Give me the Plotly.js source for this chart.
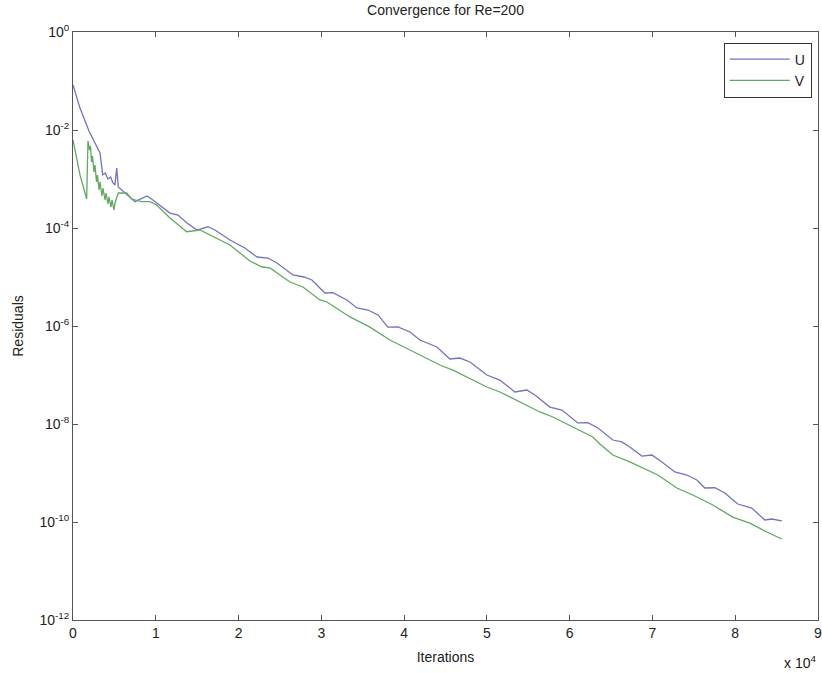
<!DOCTYPE html>
<html>
<head>
<meta charset="utf-8">
<script src="https://cdn.plot.ly/plotly-3.0.1.min.js"></script>
<style>html,body{margin:0;padding:0;background:#fff;}#chart{width:822px;height:673px;}</style>
</head>
<body>
<div id="chart"></div>
<script>
// Iteration counts and residuals
var uIter = [0, 845, 1650, 1930, 3260, 3590, 3900, 4230, 4550, 4800, 5070, 5280, 5470, 6280, 7490, 8940, 9660,
  11710, 12680, 13770, 14980, 16300, 17150, 18960, 20770, 22220, 23550, 24640, 26570, 27900, 28860,
  30430, 31400, 33090, 34300, 35630, 36840, 38040, 39250, 40700, 41910, 43960, 45530, 46740, 47950,
  50000, 51570, 53380, 54830, 55800, 57610, 59060, 60990, 62200, 63410, 65220, 66300, 67270, 68720,
  69930, 71140, 72710, 74150, 75360, 76330, 77540, 78740, 80310, 82000, 83570, 84420, 85630];
var uRes = [8.3e-2, 2.8e-2, 1.26e-2, 9.5e-3, 3.4e-3, 1.21e-3, 1.32e-3, 1.0e-3, 1.1e-3, 8.5e-4, 7.55e-4, 1.68e-3, 6.9e-4, 5.2e-4, 3.44e-4, 4.5e-4, 3.73e-4,
  2.02e-4, 1.84e-4, 1.26e-4, 9.1e-5, 1.06e-4, 9.1e-5, 5.69e-5, 3.9e-5, 2.56e-5, 2.44e-5, 1.93e-5, 1.1e-5, 1.0e-5, 8.7e-6,
  4.71e-6, 4.8e-6, 3.4e-6, 2.33e-6, 2.12e-6, 1.68e-6, 9.5e-7, 9.6e-7, 7.55e-7, 5.18e-7, 3.73e-7, 2.12e-7, 2.22e-7, 1.84e-7,
  1.0e-7, 7.9e-8, 4.5e-8, 4.94e-8, 3.9e-8, 2.22e-8, 1.93e-8, 1.05e-8, 1.06e-8, 8.3e-9, 4.71e-9, 4.3e-9, 3.4e-9, 2.22e-9,
  2.33e-9, 1.68e-9, 1.05e-9, 9.1e-10, 7.2e-10, 4.94e-10, 5.0e-10, 3.9e-10, 2.33e-10, 1.93e-10, 1.1e-10, 1.15e-10, 1.05e-10];

var vIter = [0, 845, 1650, 1810, 1993, 2113, 2234, 2355, 2536, 2657, 2838, 2959, 3140, 3261, 3502, 3623, 3865, 3985,
  4227, 4348, 4589, 4710, 4952, 5072, 5471, 6485, 7089, 8297, 9299, 10108, 11715, 13732, 15338, 16545,
  18961, 21376, 22826, 23792, 24637, 26207, 27777, 29830, 30676, 32608, 33453, 35869, 38284, 40699,
  43115, 44323, 45893, 50000, 51569, 53984, 56400, 57970, 60385, 62800, 63646, 65216, 67269, 68839,
  70650, 72945, 74877, 77293, 79708, 81761, 83814, 85626];
var vRes = [6.25e-3, 1.21e-3, 3.9e-4, 5.97e-3, 3.9e-3, 4.71e-3, 2.22e-3, 2.95e-3, 1.39e-3, 1.93e-3, 8.7e-4, 1.21e-3, 5.97e-4, 8.7e-4, 4.5e-4, 6.55e-4, 3.73e-4, 5.18e-4,
  3.09e-4, 4.3e-4, 2.68e-4, 3.73e-4, 2.33e-4, 3.24e-4, 5.18e-4, 5.18e-4, 3.9e-4, 3.44e-4, 3.44e-4, 2.95e-4, 1.6e-4, 8.4e-5, 9.1e-5, 7.2e-5,
  4.5e-5, 2.12e-5, 1.6e-5, 1.53e-5, 1.21e-5, 7.9e-6, 6.25e-6, 3.4e-6, 3.09e-6, 1.84e-6, 1.53e-6, 9.5e-7, 5.18e-7, 3.24e-7,
  2.02e-7, 1.6e-7, 1.26e-7, 5.69e-8, 4.5e-8, 2.81e-8, 1.76e-8, 1.39e-8, 8.7e-9, 5.43e-9, 3.9e-9, 2.33e-9, 1.68e-9, 1.26e-9,
  9.1e-10, 4.94e-10, 3.56e-10, 2.22e-10, 1.26e-10, 9.5e-11, 6.25e-11, 4.5e-11];

var xTickVals = [0, 10000, 20000, 30000, 40000, 50000, 60000, 70000, 80000, 90000];
var xTickText = ['0', '1', '2', '3', '4', '5', '6', '7', '8', '9'];
var yTickVals = [1, 1e-2, 1e-4, 1e-6, 1e-8, 1e-10, 1e-12];
var yTickText = ['10<sup>0</sup>', '10<sup>-2</sup>', '10<sup>-4</sup>', '10<sup>-6</sup>', '10<sup>-8</sup>', '10<sup>-10</sup>', '10<sup>-12</sup>'];

var font = 'Liberation Sans, Arial, sans-serif';
var traces = [
  {x: uIter, y: uRes, name: 'U', type: 'scatter', mode: 'lines', line: {color: '#7272c4', width: 1.3}},
  {x: vIter, y: vRes, name: 'V', type: 'scatter', mode: 'lines', line: {color: '#62a862', width: 1.3}}
];
var axisCommon = {
  showline: true, linecolor: '#555', linewidth: 1, mirror: 'ticks',
  ticks: 'inside', ticklen: 5, tickcolor: '#555', showgrid: false, zeroline: false,
  ticklabeloverflow: 'allow',
  tickfont: {family: font, size: 14, color: '#222'}
};
var layout = {
  width: 822, height: 673,
  margin: {l: 73, r: 4, t: 32, b: 53},
  paper_bgcolor: '#fff', plot_bgcolor: '#fff',
  title: {text: 'Convergence for Re=200', font: {family: font, size: 14, color: '#222'}, x: 0.542, xanchor: 'center', y: 0.992, yanchor: 'top'},
  xaxis: Object.assign({}, axisCommon, {range: [0, 90000], tickmode: 'array', tickvals: xTickVals, ticktext: xTickText,
    title: {text: 'Iterations', font: {family: font, size: 14, color: '#222'}, standoff: 12}}),
  yaxis: Object.assign({}, axisCommon, {type: 'log', range: [-12, 0], tickmode: 'array', tickvals: yTickVals, ticktext: yTickText,
    title: {text: 'Residuals', font: {family: font, size: 14, color: '#222'}, standoff: 12}}),
  showlegend: true,
  legend: {x: 0.9915, xanchor: 'right', y: 0.982, yanchor: 'top', bordercolor: '#333', borderwidth: 1, bgcolor: '#fff',
    font: {family: font, size: 14, color: '#222'}, tracegroupgap: 0, itemwidth: 60},
  annotations: [{text: 'x 10<sup>4</sup>', xref: 'paper', yref: 'paper', x: 1.0, y: -0.071, xanchor: 'right', yanchor: 'middle',
    showarrow: false, font: {family: font, size: 14, color: '#222'}}]
};
Plotly.newPlot('chart', traces, layout, {displayModeBar: false, staticPlot: true});
</script>
</body>
</html>
